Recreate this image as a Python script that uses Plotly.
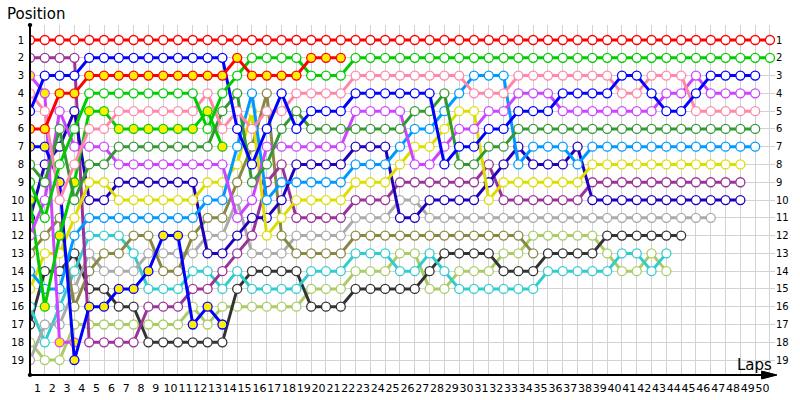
import plotly.graph_objects as go

lap_labels = [str(i) for i in range(1, 51)]
pos_labels = [str(i) for i in range(1, 20)]

# positions per lap, starting at lap 0 (grid)
red = [1, 1, 1, 1, 1, 1, 1, 1, 1, 1, 1, 1, 1, 1, 1, 1, 1, 1, 1, 1, 1, 1, 1, 1, 1, 1,
       1, 1, 1, 1, 1, 1, 1, 1, 1, 1, 1, 1, 1, 1, 1, 1, 1, 1, 1, 1, 1, 1, 1, 1, 1]
green = [9, 11, 8, 6, 4, 4, 4, 4, 4, 4, 4, 4, 6, 4, 3, 2, 2, 2, 2, 3, 3, 3, 2, 2, 2, 2,
         2, 2, 2, 2, 2, 2, 2, 2, 2, 2, 2, 2, 2, 2, 2, 2, 2, 2, 2, 2, 2, 2, 2, 2, 2]
blue = [5, 3, 3, 3, 2, 2, 2, 2, 2, 2, 2, 2, 2, 2, 6, 8, 6, 4, 6, 5, 5, 5, 4, 4, 4, 4,
        4, 4, 8, 7, 7, 6, 6, 5, 5, 5, 4, 4, 4, 4, 3, 3, 4, 5, 5, 4, 3, 3, 3, 3]
violet = [12, 10, 5, 7, 7, 7, 8, 8, 8, 8, 8, 8, 8, 8, 11, 10, 7, 7, 7, 7, 7, 7, 5, 5, 5, 5,
          8, 8, 7, 6, 6, 5, 5, 4, 4, 4, 5, 5, 5, 5, 5, 5, 5, 4, 4, 3, 4, 4, 4, 4]
pink = [4, 5, 10, 8, 6, 6, 5, 5, 5, 5, 5, 5, 4, 6, 5, 6, 5, 5, 4, 4, 4, 4, 3, 3, 3, 3,
        3, 3, 3, 3, 4, 4, 4, 3, 3, 3, 3, 3, 3, 3, 4, 4, 3, 3, 3, 5, 5, 5, 5, 5]
dkgreen = [8, 9, 6, 10, 8, 8, 7, 7, 7, 7, 7, 7, 7, 5, 4, 9, 8, 6, 5, 6, 6, 6, 6, 6, 6, 6,
           5, 5, 4, 8, 8, 7, 7, 6, 6, 6, 6, 6, 6, 6, 6, 6, 6, 6, 6, 6, 6, 6, 6, 6]
ltblue = [14, 15, 15, 12, 11, 11, 11, 11, 11, 11, 11, 11, 10, 10, 7, 4, 10, 9, 9, 9, 9, 9,
          8, 8, 8, 7, 6, 6, 5, 4, 3, 3, 3, 8, 7, 7, 7, 8, 7, 7, 7, 7, 7, 7, 7, 7, 7, 7, 7, 7]
yellow = [15, 13, 13, 11, 9, 9, 10, 10, 10, 10, 10, 10, 9, 9, 8, 5, 12, 11, 10, 10, 10, 10,
          9, 9, 9, 8, 7, 7, 6, 5, 5, 10, 9, 9, 9, 9, 9, 9, 8, 8, 8, 8, 8, 8, 8, 8, 8, 8, 8]
purple = [2, 2, 2, 2, 18, 18, 18, 18, 16, 16, 16, 15, 15, 14, 13, 12, 9, 8, 11, 11, 11, 11,
          10, 10, 10, 9, 9, 9, 9, 9, 9, 8, 10, 10, 10, 10, 10, 10, 9, 9, 9, 9, 9, 9, 9, 9, 9, 9, 9]
dkblue = [11, 8, 7, 5, 10, 10, 9, 9, 9, 9, 9, 9, 13, 13, 12, 11, 11, 10, 8, 8, 8, 8, 7, 7, 7,
          11, 11, 10, 10, 10, 10, 9, 8, 7, 8, 8, 8, 7, 10, 10, 10, 10, 10, 10, 10, 10, 10, 10, 10]
gray = [19, 17, 17, 15, 13, 14, 14, 14, 13, 13, 13, 13, 12, 12, 10, 13, 13, 13, 12, 12, 12,
        12, 11, 11, 11, 10, 10, 11, 11, 11, 11, 11, 11, 11, 11, 11, 11, 11, 11, 11, 11, 11,
        11, 11, 11, 11, 11]
olive = [13, 12, 11, 16, 14, 13, 13, 12, 12, 14, 14, 12, 11, 11, 9, 7, 4, 12, 13, 13, 13, 13,
         12, 12, 12, 12, 12, 12, 12, 12, 12, 12, 12, 12, 13]
cyan = [16, 18, 16, 14, 12, 12, 12, 13, 15, 15, 15, 14, 14, 15, 14, 15, 15, 15, 15, 14, 14,
        14, 13, 13, 13, 14, 14, 13, 14, 15, 15, 15, 15, 15, 15, 14, 14, 14, 14, 14, 13, 13,
        14, 13]
black = [17, 14, 14, 13, 15, 15, 16, 16, 18, 18, 18, 18, 18, 18, 15, 14, 14, 14, 14, 16, 16,
         16, 15, 15, 15, 15, 15, 14, 13, 13, 13, 13, 14, 14, 14, 13, 13, 13, 13, 12, 12, 12,
         12, 12, 12]
ltgreen = [18, 19, 19, 17, 17, 17, 17, 17, 17, 17, 17, 16, 17, 16, 16, 16, 16, 16, 16, 15,
           15, 15, 14, 14, 14, 13, 13, 15, 15, 14, 14, 14, 13, 13, 12, 12, 12, 12, 12, 13,
           14, 14, 13, 14]
red_b = [6, 6, 4, 4, 3, 3, 3, 3, 3, 3, 3, 3, 3, 3, 2, 3, 3, 3, 3, 2, 2, 2]
green_b = [10, 16, 12, 9, 5, 5, 6, 6, 6, 6, 6, 6, 5, 7]
blue_b = [7, 7, 9, 19, 16, 16, 15, 15, 14, 12, 12, 17, 16, 17]
violet_b = [3, 4, 18, 18]

drivers = [
    (ltgreen, "#aacc66", "white"),
    (black, "#333333", "white"),
    (cyan, "#33cccc", "white"),
    (gray, "#aaaaaa", "white"),
    (olive, "#888844", "white"),
    (purple, "#993399", "white"),
    (dkblue, "#2200bb", "white"),
    (yellow, "#dddd00", "white"),
    (ltblue, "#0099ff", "white"),
    (violet_b, "#cc44ff", "#ffee00"),
    (blue_b, "#0000ff", "#ffee00"),
    (green_b, "#00cc00", "#ffee00"),
    (violet, "#cc44ff", "white"),
    (dkgreen, "#339933", "white"),
    (pink, "#ff88aa", "white"),
    (blue, "#0000ff", "white"),
    (green, "#00cc00", "white"),
    (red_b, "#ff0000", "#ffee00"),
    (red, "#ff0000", "white"),
]

fig = go.Figure()
for i, (vals, col, fill) in enumerate(drivers):
    fig.add_trace(go.Scatter(
        x=list(range(len(vals))), y=vals, mode="lines+markers",
        line=dict(color=col, width=3),
        marker=dict(size=9, color=fill, line=dict(color=col, width=1.3)),
        showlegend=False, hoverinfo="skip",
        yaxis="y2" if i == len(drivers) - 1 else "y",
    ))

yrange = [19.84, 0.156]
xrange_ = [0, 50.34]
grid = "#d2d2d2"
tick_font = dict(family="DejaVu Sans", size=11, color="#000000")
ytick_font = dict(family="DejaVu Sans", size=10, color="#000000")

fig.update_layout(
    width=800, height=400,
    margin=dict(l=30, r=25, t=25, b=25, autoexpand=False),
    plot_bgcolor="white", paper_bgcolor="white",
    xaxis=dict(range=xrange_, tickmode="array", automargin=False, tickangle=0,
               tickvals=[i + 0.5 for i in range(len(lap_labels))],
               ticktext=lap_labels, showgrid=False, zeroline=False,
               ticks="", tickfont=tick_font, showline=False, ticklabelstandoff=5,
               minor=dict(tick0=0, dtick=1, showgrid=True, gridcolor=grid, gridwidth=1)),
    yaxis=dict(range=yrange, tickmode="array", automargin=False,
               tickvals=list(range(1, len(pos_labels) + 1)), ticktext=pos_labels,
               showgrid=True, gridcolor=grid, zeroline=False, ticks="",
               tickfont=ytick_font, showline=False, ticklabelstandoff=5),
    yaxis2=dict(range=yrange, tickmode="array", overlaying="y", side="right",
                automargin=False,
                tickvals=list(range(1, len(pos_labels) + 1)), ticktext=pos_labels,
                showgrid=False, zeroline=False, ticks="",
                tickfont=ytick_font, showline=False),
)

# axis lines with arrow and dots
fig.add_shape(type="line", xref="paper", yref="paper", x0=0, x1=0, y0=0, y1=1,
              line=dict(color="black", width=2))
fig.add_shape(type="line", xref="paper", yref="paper", x0=0, x1=1.0, y0=0, y1=0,
              line=dict(color="black", width=2))
fig.add_shape(type="path", xref="paper", yref="paper",
              path="M 0.982 0.0114 L 1.0027 0 L 0.982 -0.0114 Z",
              fillcolor="black", line=dict(color="black", width=1))
for yy in (0, 1):
    fig.add_shape(type="circle", xref="paper", yref="paper",
                  x0=-0.003, x1=0.003, y0=yy - 0.006, y1=yy + 0.006,
                  fillcolor="black", line=dict(color="black", width=0))

fig.add_annotation(text="Position", xref="paper", yref="paper", x=-0.034, y=1.03,
                   xanchor="left", yanchor="middle", showarrow=False,
                   font=dict(family="DejaVu Sans", size=15, color="#000000"))
fig.add_annotation(text="Laps", xref="paper", yref="paper", x=0.998, y=0.03,
                   xanchor="right", yanchor="middle", showarrow=False,
                   font=dict(family="DejaVu Sans", size=15, color="#000000"))

fig.write_html("out.html", config={"displayModeBar": False},
               post_script="document.body.style.margin='0';document.body.style.padding='0';")
